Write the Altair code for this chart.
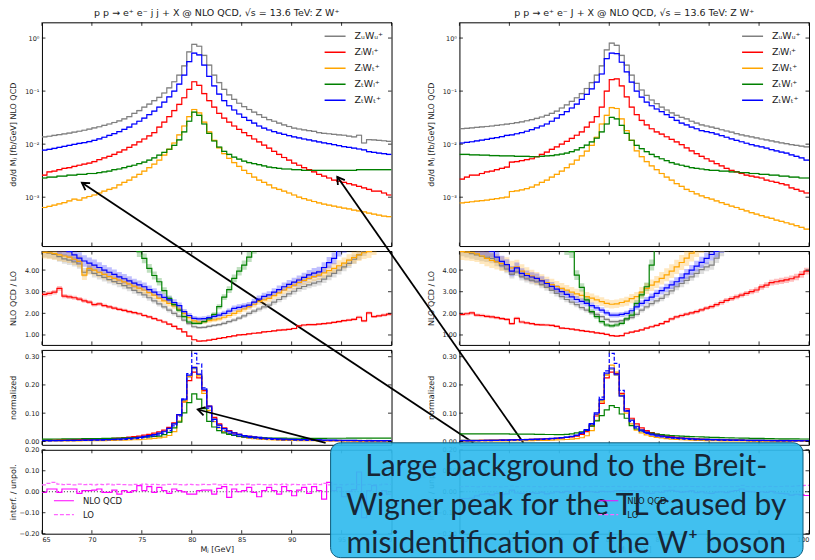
import altair as alt
import pandas as pd

# ---------------------------------------------------------------- binning
M_MIN, M_MAX, BIN_W, N_BINS = 65.0, 100.0, 0.5, 70
edges = [M_MIN + BIN_W * k for k in range(N_BINS + 1)]
m_ticks = [65, 70, 75, 80, 85, 90, 95, 100]

pol_labels = ["ZᵤWᵤ⁺", "ZₗWₗ⁺", "ZₗWₜ⁺", "ZₜWₗ⁺", "ZₜWₜ⁺"]
pol_colors = ["#808080", "#ff0000", "#ffa500", "#008000", "#0000ff"]

# ---------------------------------------------------------------- dσ/dM_J, resolved jets (j j)
jj_xsec_UU = [0.0137,0.0141,0.0146,0.0151,0.0156,0.0162,0.0168,0.0175,0.0183,0.0192,
              0.0202,0.0213,0.0226,0.0240,0.0256,0.0275,0.030,0.033,0.038,0.043,
              0.050,0.057,0.066,0.076,0.092,0.115,0.150,0.20,0.30,0.55,
              0.76,0.70,0.47,0.31,0.20,0.145,0.108,0.085,0.070,0.059,
              0.051,0.045,0.040,0.036,0.032,0.029,0.027,0.025,0.023,0.0215,
              0.0200,0.0193,0.0186,0.0180,0.0174,0.0165,0.0160,0.0157,0.0153,0.0150,
              0.0147,0.0142,0.0137,0.0147,0.0105,0.0122,0.0120,0.0118,0.0116,0.0113]
jj_xsec_LL = [0.0026,0.0030,0.0031,0.0033,0.0035,0.0036,0.0038,0.0040,0.0042,0.0044,
              0.0047,0.0051,0.0055,0.0059,0.0064,0.0071,0.0078,0.0087,0.0097,0.0110,
              0.0125,0.0143,0.0165,0.021,0.026,0.033,0.043,0.056,0.075,0.108,
              0.150,0.128,0.090,0.066,0.050,0.038,0.031,0.026,0.022,0.019,
              0.0165,0.0145,0.0125,0.0110,0.0096,0.0084,0.0073,0.0064,0.0056,0.0050,
              0.0044,0.0040,0.0036,0.0033,0.0030,0.0027,0.0025,0.0023,0.0021,0.0020,
              0.0019,0.0018,0.0017,0.0016,0.0015,0.0014,0.0013,0.0013,0.0012,0.0011]
jj_xsec_LT = [0.00064,0.00067,0.00071,0.00075,0.00079,0.00085,0.00092,0.00088,0.00097,0.00103,
              0.0011,0.0012,0.0013,0.0014,0.0015,0.0017,0.0019,0.0021,0.0024,0.0027,
              0.0031,0.0036,0.0042,0.0050,0.0062,0.0080,0.0105,0.0150,0.022,0.033,
              0.045,0.039,0.026,0.017,0.0118,0.0085,0.0066,0.0054,0.0045,0.0038,
              0.0032,0.0028,0.0024,0.0021,0.0019,0.0017,0.0015,0.0014,0.0013,0.0012,
              0.0011,0.00100,0.00094,0.00088,0.00083,0.00078,0.00074,0.00071,0.00068,0.00065,
              0.00062,0.00060,0.00057,0.00055,0.00053,0.00050,0.00048,0.00046,0.00044,0.00043]
jj_xsec_TL = [0.0023,0.0024,0.0024,0.0025,0.0025,0.0026,0.0026,0.0027,0.0027,0.0028,
              0.0028,0.0029,0.0030,0.0031,0.0033,0.0034,0.0036,0.0038,0.0040,0.0043,
              0.0046,0.0050,0.0055,0.0062,0.0070,0.0080,0.0095,0.0120,0.0170,0.027,
              0.040,0.035,0.024,0.016,0.0115,0.0088,0.0073,0.0064,0.0057,0.0052,
              0.0048,0.0045,0.0043,0.0041,0.0039,0.0037,0.0036,0.0035,0.0034,0.0034,
              0.0033,0.0033,0.0032,0.0032,0.0032,0.0032,0.0032,0.0032,0.0032,0.0032,
              0.0032,0.0032,0.0032,0.0033,0.0033,0.0033,0.0033,0.0033,0.0033,0.0033]
jj_xsec_TT = [0.0077,0.0080,0.0083,0.0087,0.0091,0.0095,0.0099,0.0103,0.0107,0.0112,
              0.0118,0.0126,0.0135,0.0146,0.0158,0.0172,0.019,0.021,0.024,0.027,
              0.031,0.036,0.042,0.050,0.062,0.078,0.100,0.135,0.20,0.36,
              0.52,0.48,0.31,0.19,0.125,0.088,0.066,0.053,0.044,0.037,
              0.032,0.028,0.025,0.022,0.020,0.0185,0.0172,0.0162,0.0153,0.0145,
              0.0137,0.0131,0.0125,0.0120,0.0115,0.0110,0.0106,0.0102,0.0098,0.0094,
              0.0090,0.0087,0.0084,0.0081,0.0078,0.0072,0.0070,0.0068,0.0066,0.0064]

# ---------------------------------------------------------------- dσ/dM_J, boosted jet (J)
J_xsec_UU = [0.0196,0.0199,0.0203,0.0207,0.0211,0.0215,0.0220,0.0226,0.0232,0.0238,
             0.0245,0.0254,0.0264,0.0276,0.0290,0.0305,0.0325,0.035,0.038,0.042,
             0.048,0.055,0.064,0.075,0.090,0.112,0.145,0.20,0.30,0.60,
             0.80,0.73,0.47,0.31,0.20,0.140,0.105,0.083,0.068,0.058,
             0.050,0.044,0.039,0.035,0.032,0.030,0.027,0.025,0.023,0.022,
             0.021,0.0198,0.0187,0.0177,0.0168,0.0158,0.0150,0.0143,0.0137,0.0131,
             0.0125,0.0120,0.0115,0.0110,0.0106,0.0102,0.0098,0.0095,0.0092,0.0089]
J_xsec_LL = [0.0022,0.0024,0.0026,0.0026,0.0028,0.0030,0.0031,0.0033,0.0035,0.0037,
             0.0046,0.0047,0.0049,0.0051,0.0053,0.0058,0.0064,0.0071,0.0080,0.0089,
             0.0100,0.0113,0.0128,0.0147,0.0170,0.021,0.026,0.033,0.050,0.100,
             0.165,0.170,0.125,0.078,0.050,0.036,0.028,0.023,0.0195,0.0170,
             0.0155,0.0138,0.0123,0.0110,0.0098,0.0085,0.0075,0.0066,0.0059,0.0053,
             0.0048,0.0043,0.0039,0.0035,0.0032,0.0030,0.0028,0.0026,0.0025,0.0024,
             0.0023,0.0021,0.0020,0.0019,0.0018,0.0017,0.0015,0.0014,0.0013,0.0012]
J_xsec_LT = [0.00078,0.00080,0.00082,0.00084,0.00086,0.00088,0.00091,0.00094,0.00097,0.00100,
             0.00128,0.00132,0.00138,0.00145,0.00155,0.0017,0.0019,0.0021,0.0024,0.0027,
             0.0031,0.0036,0.0042,0.0050,0.0060,0.0074,0.0095,0.0135,0.024,0.035,
             0.049,0.047,0.030,0.018,0.0118,0.0075,0.0058,0.0047,0.0039,0.0033,
             0.0028,0.0024,0.0021,0.0018,0.0016,0.0014,0.00128,0.00116,0.00106,0.00098,
             0.00092,0.00085,0.00079,0.00073,0.00068,0.00064,0.00059,0.00055,0.00051,0.00048,
             0.00045,0.00042,0.00040,0.00037,0.00035,0.00033,0.00031,0.00029,0.00027,0.00025]
J_xsec_TL = [0.0064,0.0064,0.0063,0.0063,0.0062,0.0062,0.0061,0.0061,0.0060,0.0060,
             0.0060,0.0059,0.0059,0.0059,0.0058,0.0058,0.0059,0.0060,0.0061,0.0063,
             0.0065,0.0068,0.0072,0.0078,0.0086,0.0096,0.0110,0.0130,0.0170,0.024,
             0.032,0.030,0.0226,0.0160,0.0118,0.0095,0.0082,0.0072,0.0064,0.0058,
             0.0053,0.0049,0.0045,0.0042,0.0040,0.0038,0.0036,0.0035,0.0034,0.0033,
             0.0032,0.0032,0.0031,0.0031,0.0030,0.0030,0.0029,0.0029,0.0028,0.0028,
             0.0027,0.0027,0.0026,0.0026,0.0025,0.0025,0.0024,0.0024,0.0023,0.0023]
J_xsec_TT = [0.0105,0.0108,0.0111,0.0115,0.0119,0.0123,0.0128,0.0133,0.0139,0.0146,
             0.0150,0.0157,0.0165,0.0175,0.0188,0.0203,0.022,0.024,0.027,0.031,
             0.036,0.041,0.048,0.057,0.070,0.087,0.110,0.148,0.21,0.41,
             0.52,0.51,0.35,0.23,0.148,0.100,0.077,0.062,0.053,0.046,
             0.041,0.036,0.032,0.028,0.025,0.023,0.021,0.0195,0.018,0.0172,
             0.0165,0.0155,0.0145,0.0135,0.0126,0.0118,0.0111,0.0104,0.0098,0.0093,
             0.0089,0.0084,0.0079,0.0075,0.0071,0.0068,0.0063,0.0059,0.0055,0.0050]
xsec_err = 0.03   # relative half-width of the band drawn around each spectrum

# ---------------------------------------------------------------- NLO QCD / LO
jj_kfac_UU = [4.82,4.78,4.72,4.62,4.52,4.46,4.38,4.28,3.90,4.00,
              3.85,3.75,3.66,3.56,3.47,3.38,3.28,3.18,3.06,2.96,
              2.85,2.72,2.58,2.44,2.30,2.15,2.00,1.86,1.69,1.52,
              1.38,1.34,1.35,1.40,1.44,1.48,1.54,1.62,1.69,1.78,
              1.88,2.00,2.10,2.20,2.30,2.38,2.52,2.64,2.77,2.90,
              3.02,3.15,3.24,3.32,3.40,3.46,3.58,3.72,3.85,4.00,
              4.15,4.31,4.50,4.70,4.89,5.10,5.30,5.50,5.70,5.90]
jj_kfac_LL = [2.88,2.92,2.98,3.15,2.80,2.76,2.72,2.66,2.58,2.52,
              2.40,2.44,2.36,2.30,2.24,2.18,2.14,2.08,2.03,1.98,
              1.90,1.84,1.76,1.68,1.60,1.50,1.40,1.28,1.14,0.95,
              0.78,0.72,0.73,0.76,0.80,0.84,0.88,0.92,0.96,1.00,
              1.02,1.05,1.08,1.10,1.14,1.16,1.19,1.22,1.24,1.26,
              1.30,1.42,1.46,1.48,1.48,1.50,1.52,1.55,1.58,1.62,
              1.66,1.69,1.72,1.82,1.65,2.02,1.85,1.88,1.92,1.96]
jj_kfac_LT = [4.82,4.80,4.76,4.70,4.65,4.60,4.50,4.40,3.77,4.08,
              4.00,3.90,3.80,3.70,3.62,3.54,3.45,3.36,3.26,3.17,
              3.08,2.96,2.84,2.70,2.58,2.46,2.34,2.20,2.00,1.80,
              1.65,1.60,1.62,1.66,1.70,1.74,1.82,1.90,2.00,2.10,
              2.20,2.31,2.42,2.55,2.62,2.69,2.82,2.95,3.08,3.20,
              3.30,3.43,3.52,3.62,3.70,3.77,3.87,3.97,4.08,4.20,
              4.32,4.46,4.58,4.70,4.80,4.85,5.00,5.20,5.40,5.60]
jj_kfac_TL = [9.0,8.8,8.6,8.4,8.2,8.0,7.8,7.6,7.4,7.2,
              7.0,6.8,6.6,6.4,6.2,6.0,5.8,5.5,5.2,4.85,
              4.54,4.08,3.75,3.46,3.05,2.69,2.40,2.15,1.85,1.60,
              1.54,1.54,1.62,1.75,1.95,2.31,2.75,3.10,3.62,3.95,
              4.23,4.60,5.00,5.4,5.8,6.2,6.6,7.0,7.4,7.8,
              8.1,8.4,8.7,9.0,9.3,9.6,9.9,10.2,10.5,10.8,
              11.1,11.4,11.7,12.0,12.3,12.6,12.9,13.2,13.5,13.8]
jj_kfac_TT = [5.6,5.4,5.2,5.05,4.95,4.85,4.70,4.55,4.42,4.32,
              4.23,4.12,4.00,3.90,3.80,3.69,3.60,3.50,3.40,3.32,
              3.23,3.10,2.98,2.86,2.74,2.62,2.50,2.36,2.08,1.90,
              1.77,1.74,1.76,1.80,1.86,1.92,2.00,2.10,2.23,2.28,
              2.33,2.38,2.52,2.66,2.78,2.85,2.98,3.10,3.23,3.34,
              3.44,3.54,3.66,3.78,3.86,3.92,4.12,4.34,4.54,4.92,
              5.1,5.2,5.4,5.6,5.8,6.0,6.2,6.4,6.6,6.8]
jj_kfac_err = [0.05, 0.035, 0.06, 0.05, 0.06]

J_kfac_UU = [4.88,4.82,4.76,4.70,4.64,4.60,4.54,4.40,4.20,4.05,
             3.80,3.92,3.70,3.60,3.52,3.46,3.33,3.20,3.06,2.92,
             2.77,2.64,2.52,2.40,2.26,2.15,2.04,1.95,1.85,1.72,
             1.62,1.62,1.66,1.72,1.80,1.95,2.15,2.30,2.45,2.58,
             2.69,2.86,3.04,3.23,3.38,3.52,3.69,3.85,4.02,4.15,
             4.23,4.55,4.88,5.10,5.3,5.5,5.7,5.9,6.1,6.3,
             6.5,6.7,6.9,7.1,7.3,7.5,7.7,7.9,8.1,8.3]
J_kfac_LL = [1.95,1.98,2.02,1.92,1.90,1.86,1.84,1.80,1.76,1.72,
             1.52,1.77,1.60,1.56,1.52,1.48,1.47,1.46,1.44,1.40,
             1.32,1.30,1.27,1.24,1.20,1.17,1.14,1.10,1.07,1.03,
             0.97,0.95,0.97,1.08,1.13,1.18,1.24,1.32,1.38,1.44,
             1.52,1.62,1.74,1.84,1.90,1.96,2.02,2.08,2.16,2.24,
             2.31,2.40,2.50,2.60,2.68,2.76,2.84,2.92,3.00,3.08,
             3.22,3.30,3.42,3.46,3.50,3.55,3.60,3.68,3.80,3.95]
J_kfac_LT = [4.85,4.83,4.80,4.75,4.65,4.54,4.45,4.38,4.30,4.25,
             4.10,4.15,3.95,3.82,3.72,3.62,3.52,3.42,3.33,3.24,
             3.15,3.07,2.98,2.90,2.83,2.77,2.70,2.62,2.54,2.46,
             2.42,2.44,2.50,2.56,2.68,2.77,2.98,3.15,3.30,3.45,
             3.62,3.78,3.95,4.15,4.35,4.55,4.78,5.00,5.2,5.4,
             5.6,5.8,6.0,6.2,6.4,6.6,6.8,7.0,7.2,7.4,
             7.6,7.8,8.0,8.2,8.4,8.6,8.8,9.0,9.2,9.4]
J_kfac_TL = [8.0,7.9,7.8,7.7,7.6,7.5,7.4,7.3,7.2,7.1,
             7.0,6.9,6.8,6.6,6.4,6.2,6.0,5.8,5.6,5.4,
             5.2,5.0,4.85,3.77,3.20,2.62,2.08,1.85,1.62,1.46,
             1.42,1.46,1.54,1.75,1.92,2.46,2.85,3.23,4.23,5.2,
             5.6,6.0,6.4,6.8,7.2,7.6,8.0,8.4,8.8,9.2,
             9.6,10.0,10.4,10.8,11.2,11.6,12.0,12.4,12.8,13.2,
             13.6,14.0,14.4,14.8,15.2,15.6,16.0,16.4,16.8,17.2]
J_kfac_TT = [5.6,5.4,5.2,5.05,4.98,4.94,4.88,4.60,4.40,4.25,
             3.95,4.10,3.85,3.75,3.68,3.62,3.50,3.38,3.25,3.12,
             3.00,2.88,2.76,2.64,2.55,2.46,2.36,2.25,2.15,2.02,
             1.92,1.92,1.95,2.00,2.12,2.30,2.46,2.60,2.75,2.92,
             3.05,3.18,3.32,3.46,3.64,3.82,4.00,4.18,4.36,4.54,
             4.72,4.88,5.1,5.3,5.5,5.7,5.9,6.1,6.3,6.5,
             6.7,6.9,7.1,7.3,7.5,7.7,7.9,8.1,8.3,8.5]
J_kfac_err = [0.05, 0.04, 0.08, 0.06, 0.06]

# ---------------------------------------------------------------- normalized shapes (NLO QCD, plus LO for Z_T W_T)
jj_norm_UU = [0.0035,0.0037,0.0039,0.0041,0.0043,0.0046,0.0049,0.0052,0.0056,0.0060,
              0.0064,0.0069,0.0074,0.0080,0.0087,0.0095,0.0105,0.0117,0.0130,0.0147,
              0.0168,0.0195,0.023,0.028,0.035,0.045,0.062,0.093,0.145,0.228,
              0.258,0.236,0.180,0.122,0.080,0.058,0.045,0.036,0.030,0.025,
              0.021,0.018,0.016,0.014,0.0125,0.0112,0.0100,0.0092,0.0085,0.0078,
              0.0072,0.0067,0.0063,0.0059,0.0055,0.0052,0.0049,0.0047,0.0045,0.0043,
              0.0041,0.0039,0.0037,0.0040,0.0029,0.0034,0.0033,0.0032,0.0031,0.0030]
jj_norm_LL = [0.0040,0.0045,0.0048,0.0052,0.0055,0.0058,0.0062,0.0066,0.0070,0.0075,
              0.0080,0.0086,0.0093,0.0100,0.0110,0.0120,0.0135,0.0150,0.0170,0.0190,
              0.022,0.025,0.029,0.034,0.040,0.050,0.066,0.095,0.140,0.215,
              0.245,0.225,0.180,0.125,0.085,0.062,0.048,0.038,0.030,0.025,
              0.021,0.018,0.015,0.013,0.011,0.0095,0.0085,0.0075,0.0067,0.0060,
              0.0054,0.0049,0.0045,0.0041,0.0038,0.0035,0.0032,0.0030,0.0028,0.0026,
              0.0024,0.0023,0.0022,0.0021,0.0020,0.0019,0.0018,0.0017,0.0016,0.0015]
jj_norm_LT = [0.0015,0.0016,0.0017,0.0018,0.0019,0.0020,0.0022,0.0021,0.0023,0.0025,
              0.0027,0.0029,0.0031,0.0034,0.0037,0.0041,0.0046,0.0051,0.0058,0.0066,
              0.0076,0.0089,0.0105,0.0125,0.0155,0.021,0.035,0.072,0.140,0.230,
              0.262,0.232,0.170,0.110,0.070,0.048,0.035,0.027,0.021,0.017,
              0.014,0.0115,0.0095,0.0080,0.0068,0.0058,0.0050,0.0044,0.0039,0.0035,
              0.0032,0.0029,0.0027,0.0025,0.0023,0.0021,0.0020,0.0019,0.0018,0.0017,
              0.0016,0.0015,0.0014,0.0013,0.0013,0.0012,0.0012,0.0011,0.0011,0.0010]
jj_norm_TL = [0.0083,0.0084,0.0085,0.0086,0.0088,0.0090,0.0092,0.0094,0.0096,0.0098,
              0.0100,0.0103,0.0106,0.0110,0.0114,0.0118,0.0123,0.0129,0.0135,0.0142,
              0.0150,0.0160,0.0175,0.0190,0.024,0.032,0.048,0.068,0.101,0.137,
              0.168,0.150,0.116,0.071,0.051,0.038,0.030,0.025,0.021,0.018,
              0.016,0.0148,0.0138,0.0130,0.0125,0.0120,0.0117,0.0115,0.0113,0.0112,
              0.0112,0.0112,0.0111,0.0111,0.0111,0.0111,0.0111,0.0112,0.0112,0.0112,
              0.0112,0.0113,0.0113,0.0113,0.0114,0.0114,0.0114,0.0115,0.0115,0.0115]
jj_norm_TT = [0.0025,0.0027,0.0029,0.0031,0.0033,0.0035,0.0038,0.0041,0.0044,0.0048,
              0.0052,0.0056,0.0061,0.0067,0.0074,0.0082,0.0092,0.0104,0.0120,0.0140,
              0.018,0.021,0.024,0.029,0.036,0.046,0.062,0.095,0.150,0.235,
              0.262,0.238,0.185,0.125,0.078,0.058,0.045,0.036,0.030,0.025,
              0.021,0.018,0.016,0.014,0.012,0.011,0.010,0.009,0.0083,0.0077,
              0.0071,0.0066,0.0062,0.0058,0.0054,0.0051,0.0048,0.0045,0.0043,0.0041,
              0.0039,0.0037,0.0035,0.0033,0.0032,0.0030,0.0029,0.0028,0.0027,0.0026]
jj_norm_lo_TT = [0.0020,0.0022,0.0023,0.0025,0.0026,0.0028,0.0030,0.0033,0.0035,0.0038,
                 0.0041,0.0045,0.0049,0.0053,0.0058,0.0065,0.0073,0.0083,0.0095,0.0110,
                 0.0135,0.016,0.019,0.023,0.029,0.038,0.055,0.090,0.150,0.240,
                 0.312,0.275,0.190,0.118,0.072,0.050,0.037,0.029,0.023,0.019,
                 0.016,0.0135,0.0115,0.0100,0.0088,0.0078,0.0070,0.0063,0.0057,0.0052,
                 0.0048,0.0044,0.0041,0.0038,0.0036,0.0034,0.0032,0.0030,0.0028,0.0027,
                 0.0026,0.0024,0.0023,0.0022,0.0021,0.0020,0.0019,0.0019,0.0018,0.0017]

J_norm_UU = [0.0045,0.0046,0.0047,0.0048,0.0049,0.0050,0.0052,0.0054,0.0056,0.0058,
             0.0060,0.0063,0.0066,0.0070,0.0074,0.0079,0.0085,0.0092,0.0100,0.0110,
             0.0125,0.0145,0.017,0.021,0.028,0.040,0.060,0.095,0.145,0.236,
             0.256,0.235,0.160,0.108,0.076,0.054,0.042,0.034,0.028,0.024,
             0.021,0.018,0.016,0.0145,0.0130,0.0120,0.0110,0.0102,0.0095,0.0089,
             0.0084,0.0079,0.0075,0.0071,0.0067,0.0064,0.0061,0.0058,0.0056,0.0054,
             0.0052,0.0050,0.0048,0.0046,0.0045,0.0043,0.0042,0.0041,0.0040,0.0039]
J_norm_LL = [0.0028,0.0030,0.0032,0.0033,0.0035,0.0037,0.0039,0.0041,0.0044,0.0047,
             0.0058,0.0060,0.0063,0.0066,0.0070,0.0075,0.0081,0.0088,0.0097,0.0110,
             0.0122,0.0138,0.016,0.019,0.025,0.035,0.055,0.090,0.135,0.225,
             0.245,0.240,0.170,0.115,0.082,0.062,0.048,0.038,0.031,0.026,
             0.022,0.019,0.016,0.014,0.012,0.0105,0.0093,0.0083,0.0074,0.0066,
             0.0060,0.0054,0.0049,0.0045,0.0041,0.0038,0.0035,0.0033,0.0031,0.0029,
             0.0027,0.0025,0.0024,0.0022,0.0021,0.0020,0.0019,0.0018,0.0017,0.0016]
J_norm_LT = [0.0012,0.0013,0.0013,0.0014,0.0014,0.0015,0.0016,0.0017,0.0018,0.0019,
             0.0024,0.0025,0.0026,0.0028,0.0030,0.0033,0.0036,0.0040,0.0045,0.0051,
             0.0058,0.0068,0.0080,0.0097,0.013,0.020,0.038,0.075,0.140,0.235,
             0.270,0.245,0.165,0.100,0.062,0.040,0.030,0.023,0.018,0.0145,
             0.0120,0.0098,0.0082,0.0069,0.0058,0.0050,0.0043,0.0038,0.0033,0.0030,
             0.0027,0.0024,0.0022,0.0020,0.0018,0.0016,0.0015,0.0014,0.0013,0.0012,
             0.0011,0.0010,0.00095,0.0009,0.00085,0.0008,0.00075,0.0007,0.00065,0.0006]
J_norm_TL = [0.027,0.027,0.027,0.027,0.027,0.027,0.027,0.0265,0.0265,0.0265,
             0.026,0.026,0.026,0.0255,0.0255,0.025,0.025,0.0245,0.0245,0.024,
             0.024,0.025,0.027,0.030,0.034,0.039,0.054,0.073,0.091,0.112,
             0.127,0.120,0.097,0.082,0.056,0.044,0.037,0.032,0.029,0.026,
             0.024,0.0225,0.021,0.020,0.019,0.018,0.0172,0.0165,0.0158,0.0152,
             0.0146,0.0140,0.0135,0.0130,0.0125,0.0121,0.0117,0.0113,0.0110,0.0107,
             0.0104,0.0101,0.0098,0.0095,0.0093,0.0091,0.0089,0.0087,0.0086,0.0085]
J_norm_TT = [0.0025,0.0027,0.0029,0.0031,0.0033,0.0035,0.0038,0.0041,0.0044,0.0047,
             0.0055,0.0058,0.0062,0.0067,0.0072,0.0078,0.0086,0.0095,0.0106,0.0120,
             0.0135,0.0155,0.018,0.022,0.030,0.042,0.063,0.101,0.149,0.242,
             0.260,0.238,0.161,0.107,0.075,0.052,0.040,0.032,0.026,0.022,
             0.019,0.0165,0.0145,0.0128,0.0114,0.0102,0.0092,0.0084,0.0077,0.0071,
             0.0066,0.0061,0.0057,0.0053,0.0049,0.0046,0.0043,0.0041,0.0039,0.0037,
             0.0035,0.0033,0.0031,0.0030,0.0028,0.0027,0.0026,0.0025,0.0024,0.0023]
J_norm_lo_TT = [0.0020,0.0021,0.0023,0.0024,0.0026,0.0028,0.0030,0.0032,0.0035,0.0038,
                0.0044,0.0047,0.0050,0.0054,0.0059,0.0065,0.0072,0.0080,0.0090,0.0103,
                0.0120,0.014,0.017,0.021,0.028,0.039,0.060,0.097,0.157,0.250,
                0.312,0.276,0.181,0.109,0.070,0.048,0.036,0.028,0.023,0.019,
                0.016,0.0137,0.0118,0.0103,0.0091,0.0080,0.0072,0.0065,0.0059,0.0054,
                0.0050,0.0046,0.0043,0.0040,0.0037,0.0034,0.0032,0.0030,0.0028,0.0027,
                0.0025,0.0024,0.0023,0.0022,0.0021,0.0020,0.0019,0.0018,0.0017,0.0016]

# ---------------------------------------------------------------- interference / unpolarized
jj_interf_nlo = [-0.003,0.013,0.013,-0.003,0.013,0.013,0.013,-0.008,0.005,0.005,
                 0.008,0.013,-0.003,-0.003,0.008,-0.011,0.005,-0.003,0.005,0.029,
                 0.005,0.024,-0.003,0.021,0.005,-0.008,0.013,0.005,-0.001,-0.011,
                 -0.011,0.005,0.008,0.008,-0.011,0.016,0.024,-0.027,0.013,0.000,
                 0.005,0.021,-0.003,-0.024,0.005,0.021,0.005,-0.011,0.024,0.005,
                 -0.019,0.008,0.021,-0.008,0.024,0.005,-0.035,0.045,0.005,0.021,
                 -0.024,0.002,0.010,0.094,-0.124,0.005,0.029,-0.019,0.005,-0.011]
jj_interf_lo = [0.033,0.040,0.045,0.036,0.034,0.035,0.033,0.036,0.034,0.035,
                0.033,0.035,0.034,0.036,0.033,0.035,0.034,0.033,0.035,0.034,
                0.036,0.033,0.035,0.034,0.033,0.035,0.036,0.034,0.033,0.035,
                0.034,0.033,0.035,0.034,0.036,0.033,0.035,0.034,0.033,0.035,
                0.034,0.036,0.033,0.035,0.034,0.033,0.035,0.034,0.036,0.033,
                0.035,0.034,0.033,0.035,0.036,0.034,0.040,0.033,0.035,0.034,
                0.033,0.035,0.036,0.034,0.033,0.035,0.034,0.033,0.036,0.035]
J_interf_nlo = [-0.033,-0.033,-0.030,-0.020,-0.012,-0.010,-0.015,-0.008,-0.012,-0.010,
                0.008,-0.006,-0.008,-0.010,-0.004,-0.008,-0.002,-0.010,-0.006,0.000,
                -0.004,0.002,-0.006,0.003,-0.002,0.002,0.000,-0.003,0.002,0.000,
                0.001,0.004,0.005,0.003,0.006,0.002,0.004,-0.006,-0.008,0.000,
                -0.003,0.004,0.007,0.002,-0.002,0.000,0.004,-0.004,0.000,-0.006,
                -0.008,-0.002,0.000,-0.004,0.002,0.006,0.013,0.002,0.000,-0.002,
                0.000,-0.003,0.002,-0.006,-0.008,-0.010,-0.016,-0.012,-0.015,-0.018]
J_interf_lo = [0.024,0.026,0.025,0.023,0.025,0.026,0.024,0.025,0.023,0.025,
               0.027,0.024,0.025,0.026,0.024,0.025,0.023,0.025,0.026,0.024,
               0.025,0.024,0.026,0.025,0.023,0.025,0.024,0.026,0.025,0.024,
               0.025,0.026,0.024,0.025,0.023,0.025,0.026,0.024,0.025,0.024,
               0.026,0.025,0.023,0.025,0.024,0.026,0.025,0.024,0.025,0.023,
               0.025,0.026,0.024,0.025,0.024,0.026,0.030,0.025,0.024,0.025,
               0.023,0.025,0.026,0.024,0.025,0.027,0.026,0.028,0.029,0.030]

# ---------------------------------------------------------------- annotation
note_lines = ["Large background to the Breit-",
              "Wigner peak for the TL caused by",
              "misidentification of the W⁺ boson"]

FONT = "DejaVu Sans"
INK = "#1a1a1a"
W = 350
H_MAIN, H_RATIO, H_NORM, H_INT = 224, 94, 95, 84
TICK = 3.5
CHEVRON = "M -0.6 1 L 0 0 L 0.6 1"

x_scale = alt.Scale(domain=[M_MIN, M_MAX], nice=False, zero=False)
pol_scale = alt.Scale(domain=pol_labels, range=pol_colors)
one_row = pd.DataFrame({"k": [0]})


def step_rows(values, label, rel_err=None):
    rows = []
    for k, edge in enumerate(edges):
        v = values[min(k, N_BINS - 1)]
        row = {"m": edge, "v": v, "s": label}
        if rel_err is not None:
            row["lo"] = v * (1 - rel_err)
            row["hi"] = v * (1 + rel_err)
        rows.append(row)
    return pd.DataFrame(rows)


def y_axis(title, values, fmt=None, expr=None):
    kw = dict(title=title, values=values, grid=False, ticks=False, domain=False,
              labelFontSize=6.5, titleFontSize=8, titleFontWeight="normal",
              labelPadding=3, titleX=-28, titleBaseline="middle",
              labelColor=INK, titleColor=INK, labelFont=FONT, titleFont=FONT)
    if fmt:
        kw["format"] = fmt
    if expr:
        kw["labelExpr"] = expr
    return alt.Axis(**kw)


def x_enc(field, bottom):
    if bottom:
        axis = alt.Axis(title="Mⱼ [GeV]", values=m_ticks, format="d",
                        grid=False, ticks=False, domain=False, labelFontSize=6.5,
                        titleFontSize=8, titleFontWeight="normal", labelPadding=3,
                        titlePadding=2, labelColor=INK, titleColor=INK,
                        labelFont=FONT, titleFont=FONT)
    else:
        axis = None
    return alt.X(field, type="quantitative", scale=x_scale, axis=axis)


def inner_ticks(y_scale, y_ax, y_vals, height, bottom):
    """Short tick marks drawn inside the frame on all four sides."""
    xt = pd.DataFrame({"m": m_ticks})
    yt = pd.DataFrame({"v": y_vals})
    style = dict(color="black", strokeWidth=0.8)
    y = alt.Y("v:Q", scale=y_scale, axis=y_ax)
    return [
        alt.Chart(xt).mark_rule(**style).encode(x=x_enc("m", bottom), y=alt.value(0),
                                                y2=alt.value(TICK)),
        alt.Chart(xt).mark_rule(**style).encode(x=x_enc("m", bottom), y=alt.value(height),
                                                y2=alt.value(height - TICK)),
        alt.Chart(yt).mark_rule(**style).encode(y=y, x=alt.value(0), x2=alt.value(TICK)),
        alt.Chart(yt).mark_rule(**style).encode(y=y, x=alt.value(W), x2=alt.value(W - TICK)),
    ]


log_ticks = [1, 0.1, 0.01, 0.001]
log_axis = y_axis("dσ/d Mⱼ  [fb/GeV] NLO QCD", log_ticks,
                  expr="datum.value > 0.5 ? '10⁰' : datum.value > 0.05 ? '10⁻¹' : "
                       "datum.value > 0.005 ? '10⁻²' : '10⁻³'")
log_scale = alt.Scale(type="log", domain=[1.2e-4, 1.98], nice=False)
ratio_ticks = [1, 2, 3, 4]
ratio_axis = y_axis("NLO QCD / LO", ratio_ticks, fmt=".2f")
ratio_scale = alt.Scale(domain=[0.54, 4.88], nice=False, zero=False)
norm_ticks = [0, 0.1, 0.2, 0.3]
norm_axis = y_axis("normalized", norm_ticks, fmt=".2f")
norm_scale = alt.Scale(domain=[-0.012, 0.324], nice=False, zero=False)
int_ticks = [-0.2, -0.1, 0, 0.1, 0.2]
int_axis = y_axis("interf. / unpol.", int_ticks, fmt=".2f")
int_scale = alt.Scale(domain=[-0.2, 0.2], nice=False, zero=False)

main_legend = alt.Legend(title=None, orient="top-right", offset=8, padding=0,
                         symbolType="stroke", symbolSize=441, symbolStrokeWidth=1.5,
                         symbolOpacity=1,
                         labelFontSize=9.5, labelFont=FONT, labelColor=INK,
                         labelOffset=8, clipHeight=12, rowPadding=4)


def arrow_layers(tip_m, tip_v, tail_px, angle, y_scale, y_ax):
    tip = pd.DataFrame({"tm": [tip_m], "tv": [tip_v]})
    y = alt.Y("tv:Q", scale=y_scale, axis=y_ax)
    shaft = alt.Chart(tip).mark_rule(color="black", strokeWidth=1.8).encode(
        x=x_enc("tm", False), y=y, x2=alt.value(tail_px[0]), y2=alt.value(tail_px[1]))
    head = alt.Chart(tip).mark_point(shape=CHEVRON, filled=False, size=200, strokeWidth=1.8,
                                     color="black", opacity=1, angle=angle).encode(
        x=x_enc("tm", False), y=y)
    return [shaft, head]


def main_panel(series, title, arrows):
    bands, lines = [], []
    for lab, vals in zip(pol_labels, series):
        df = step_rows(vals, lab, xsec_err)
        lines.append(alt.Chart(df).mark_line(
            interpolate="step-after", strokeWidth=1.2, clip=True).encode(
            x=x_enc("m", False),
            y=alt.Y("v:Q", scale=log_scale, axis=log_axis),
            color=alt.Color("s:N", scale=pol_scale, legend=main_legend)))
        bands.append(alt.Chart(df).mark_area(interpolate="step-after", opacity=0.3,
                                             clip=True).encode(
            x=x_enc("m", False),
            y=alt.Y("lo:Q", scale=log_scale, axis=log_axis), y2="hi:Q",
            color=alt.Color("s:N", scale=pol_scale, legend=main_legend)))
    layers = lines + bands + inner_ticks(log_scale, log_axis, log_ticks, H_MAIN, False)
    for a in arrows:
        layers += arrow_layers(*a, log_scale, log_axis)
    return alt.layer(*layers).properties(
        width=W, height=H_MAIN,
        title=alt.TitleParams(title, fontSize=9.5, fontWeight="normal", font=FONT,
                              anchor="middle", frame="group", offset=4, color=INK))


def ratio_panel(series, errs):
    bands, lines = [], []
    for lab, vals, err in zip(pol_labels, series, errs):
        df = step_rows(vals, lab, err)
        bands.append(alt.Chart(df).mark_area(interpolate="step-after", opacity=0.25,
                                             clip=True).encode(
            x=x_enc("m", False),
            y=alt.Y("lo:Q", scale=ratio_scale, axis=ratio_axis), y2="hi:Q",
            color=alt.Color("s:N", scale=pol_scale, legend=None)))
        lines.append(alt.Chart(df).mark_line(interpolate="step-after", strokeWidth=1.2,
                                             clip=True).encode(
            x=x_enc("m", False),
            y=alt.Y("v:Q", scale=ratio_scale, axis=ratio_axis),
            color=alt.Color("s:N", scale=pol_scale, legend=None)))
    layers = bands + lines + inner_ticks(ratio_scale, ratio_axis, ratio_ticks, H_RATIO, False)
    return alt.layer(*layers).properties(width=W, height=H_RATIO)


def norm_panel(series, lo_tt, arrows):
    layers = []
    for lab, vals in zip(pol_labels, series):
        layers.append(alt.Chart(step_rows(vals, lab)).mark_line(
            interpolate="step-after", strokeWidth=1.2, clip=True).encode(
            x=x_enc("m", False),
            y=alt.Y("v:Q", scale=norm_scale, axis=norm_axis),
            color=alt.Color("s:N", scale=pol_scale, legend=None)))
    layers.append(alt.Chart(step_rows(lo_tt, pol_labels[4] + " LO")).mark_line(
        interpolate="step-after", strokeWidth=1.2, strokeDash=[4, 2], clip=True,
        color=pol_colors[4]).encode(
        x=x_enc("m", False), y=alt.Y("v:Q", scale=norm_scale, axis=norm_axis)))
    layers += inner_ticks(norm_scale, norm_axis, norm_ticks, H_NORM, False)
    for a in arrows:
        layers += arrow_layers(*a, norm_scale, norm_axis)
    return alt.layer(*layers).properties(width=W, height=H_NORM)


def interf_panel(nlo, lo, legend_x, note):
    df = pd.concat([step_rows(nlo, "NLO QCD"), step_rows(lo, "LO")])
    leg = alt.Legend(title=None, orient="none", legendX=legend_x, legendY=46, padding=0,
                     symbolType="stroke", symbolSize=400, symbolStrokeWidth=1.2,
                     labelFontSize=8.5, labelFont=FONT, labelColor=INK, labelOffset=8,
                     clipHeight=10, rowPadding=4)
    kinds = ["NLO QCD", "LO"]
    zero = alt.Chart(one_row).mark_rule(color="black", strokeDash=[1, 2],
                                        strokeWidth=0.8).encode(
        y=alt.Y(datum=0, scale=int_scale, axis=int_axis))
    lines = alt.Chart(df).mark_line(interpolate="step-after", strokeWidth=1.2,
                                    clip=True).encode(
        x=x_enc("m", True),
        y=alt.Y("v:Q", scale=int_scale, axis=int_axis),
        color=alt.Color("s:N", scale=alt.Scale(domain=kinds, range=["#ff00ff", "#ff66ff"]),
                        legend=leg),
        strokeDash=alt.StrokeDash("s:N", scale=alt.Scale(domain=kinds, range=[[1, 0], [4, 2]]),
                                  legend=leg))
    layers = [zero, lines] + inner_ticks(int_scale, int_axis, int_ticks, H_INT, True)
    if note:
        layers.append(alt.Chart(one_row).mark_rect(
            cornerRadius=10, fill="#33bbee", fillOpacity=0.93, stroke="#0d5a7a",
            strokeWidth=1).encode(
            x=alt.value(-129), x2=alt.value(344), y=alt.value(-7), y2=alt.value(108)))
        for line, base in zip(note_lines, [26.7, 65, 103]):
            layers.append(alt.Chart(one_row).mark_text(
                text=line, font="Lato", fontSize=30, color="#172636", align="center",
                baseline="alphabetic").encode(x=alt.value(107), y=alt.value(base)))
    return alt.layer(*layers).properties(width=W, height=H_INT)


title_jj = "p p → e⁺ e⁻ j j + X @ NLO QCD, √s = 13.6 TeV: Z W⁺"
title_J = "p p → e⁺ e⁻ J + X @ NLO QCD, √s = 13.6 TeV: Z W⁺"

panels = [
    main_panel([jj_xsec_UU, jj_xsec_LL, jj_xsec_LT, jj_xsec_TL, jj_xsec_TT], title_jj,
               [(69.0, 0.00187, (432, 421), 303.6), (94.57, 0.00242, (482, 421), 325.0)]),
    main_panel([J_xsec_UU, J_xsec_LL, J_xsec_LT, J_xsec_TL, J_xsec_TT], title_J, []),
    ratio_panel([jj_kfac_UU, jj_kfac_LL, jj_kfac_LT, jj_kfac_TL, jj_kfac_TT], jj_kfac_err),
    ratio_panel([J_kfac_UU, J_kfac_LL, J_kfac_LT, J_kfac_TL, J_kfac_TT], J_kfac_err),
    norm_panel([jj_norm_UU, jj_norm_LL, jj_norm_LT, jj_norm_TL, jj_norm_TT], jj_norm_lo_TT,
               [(80.6, 0.113, (284, 93), 284.5)]),
    norm_panel([J_norm_UU, J_norm_LL, J_norm_LT, J_norm_TL, J_norm_TT], J_norm_lo_TT, []),
    interf_panel(jj_interf_nlo, jj_interf_lo, 11, False),
    interf_panel(J_interf_nlo, J_interf_lo, 138, True),
]

indep = dict(color="independent", strokeDash="independent")
chart = (alt.concat(*panels, columns=2, spacing={"row": 5, "column": 68}, bounds="flush")
         .resolve_scale(**indep).resolve_legend(**indep)
         .properties(padding={"left": 9, "top": 7, "right": 5, "bottom": 2})
         .configure(font=FONT)
         .configure_view(stroke="black", strokeWidth=1))

chart.save("out.html", embed_options={"renderer": "svg", "actions": False})
